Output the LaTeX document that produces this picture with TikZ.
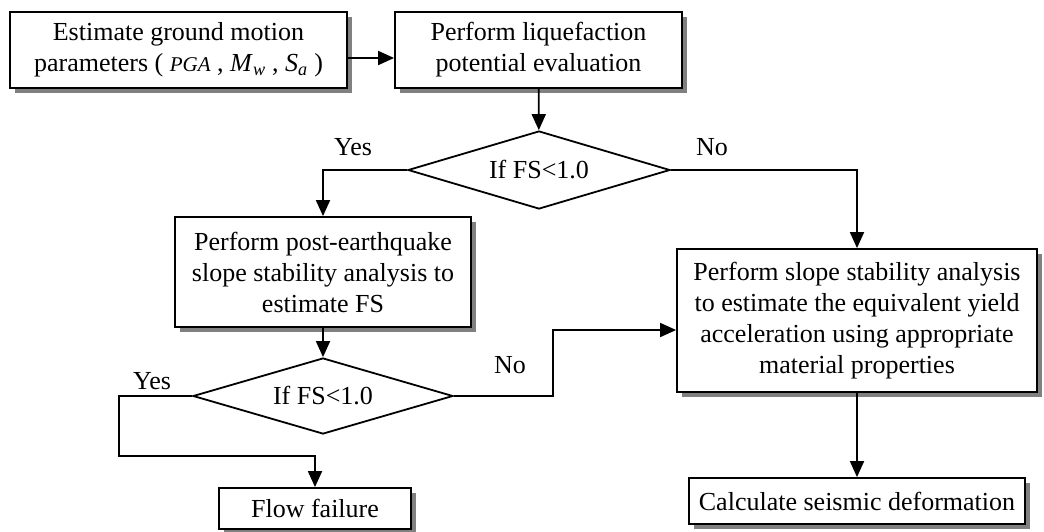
\documentclass[tikz,border=0pt]{standalone}
\usepackage{fontspec}
\setmainfont{Liberation Serif}
\usetikzlibrary{shapes.geometric, arrows.meta, shadows}

\tikzset{
  stepbox/.style={draw, fill=white, line width=1.8pt, align=center, inner sep=0pt,
    drop shadow={shadow xshift=5pt, shadow yshift=-5pt, fill=black!50, opacity=1}},
  test/.style={draw, diamond, aspect=3.5, line width=1.8pt, inner sep=0pt,
    minimum width=262pt, minimum height=78pt},
  flow/.style={line width=1.8pt, -{Triangle[length=16pt,width=14pt]}}
}

\begin{document}
\begin{tikzpicture}[x=1pt, y=-1pt, font=\fontsize{26}{31}\selectfont]
    \useasboundingbox (0,0) rectangle (1044,531);
    % boxes
    \node[stepbox, minimum width=337pt, minimum height=76pt] (ground) at (178.5,50)
        {Estimate ground motion\\parameters ( {\fontsize{21}{25}\selectfont\textit{PGA}} , \textit{M}\textsubscript{\textit{w}} , \textit{S}\textsubscript{\textit{a}} )};
    \node[stepbox, minimum width=287pt, minimum height=76pt] (liq) at (538.5,50)
        {Perform liquefaction\\potential evaluation};
    \node[test] (fs1) at (539,170) {If FS<1.0};
    \node[stepbox, minimum width=296pt, minimum height=110pt] (post) at (323,272)
        {Perform post-earthquake\\slope stability analysis to\\estimate FS};
    \node[test, minimum width=260pt, minimum height=76pt] (fs2) at (323,396) {If FS<1.0};
    \node[stepbox, minimum width=192pt, minimum height=41pt] (fail) at (315,508.5)
        {Flow failure};
    \node[stepbox, minimum width=360pt, minimum height=143pt] (yield) at (857,320.5)
        {Perform slope stability analysis\\to estimate the equivalent yield\\acceleration using appropriate\\material properties};
    \node[stepbox, minimum width=336pt, minimum height=46pt] (deform) at (857,501)
        {Calculate seismic deformation};
    % labels
    \node (yes1) at (353,147) {Yes};
    \node (no1) at (712,147) {No};
    \node (yes2) at (152,381) {Yes};
    \node (no2) at (510,365) {No};
    % connectors
    \coordinate (a1) at (0,58);
    \coordinate (c1) at (323,170);
    \coordinate (c2) at (857,170);
    \coordinate (c3) at (119,396);
    \coordinate (c4) at (119,456);
    \coordinate (c5) at (315,456);
    \coordinate (c6) at (553,396);
    \coordinate (c7) at (553,330);
    \draw[flow] (ground.east |- a1) -- (liq.west |- a1);
    \draw[flow] (liq) -- (fs1);
    \draw[flow] (fs1.west) -- (c1) -- (post.north);
    \draw[flow] (fs1.east) -- (c2) -- (yield.north);
    \draw[flow] (post) -- (fs2);
    \draw[flow] (fs2.west) -- (c3) -- (c4) -- (c5) -- (fail.north);
    \draw[flow] (fs2.east) -- (c6) -- (c7) -- (c7 -| yield.west);
    \draw[flow] (yield) -- (deform);
\end{tikzpicture}
\end{document}
